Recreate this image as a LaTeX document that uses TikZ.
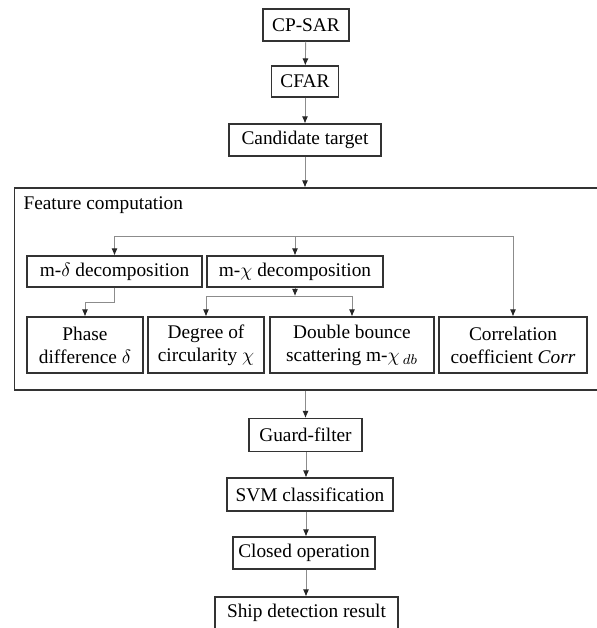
\documentclass[tikz,border=0pt]{standalone}
\usepackage{fontspec}
\setmainfont{Liberation Serif}
\usetikzlibrary{arrows.meta}

\begin{document}
\begin{tikzpicture}[
    x=0.02cm,y=-0.02cm,
    font=\fontsize{11}{13}\selectfont,
    every node/.style={draw=black!80,line width=0.6pt,inner sep=0pt,align=center},
    link/.style={draw=black!45,line width=0.5pt},
    arr/.style={link,-{Latex[length=4pt,width=3.4pt,color=black!85]}},
  ]
  \useasboundingbox (0,0) rectangle (597,628);
  % main chain, top part
  \node[minimum width=1.72cm,minimum height=0.64cm] (cpsar) at (306,25) {CP-SAR};
  \node[minimum width=1.34cm,minimum height=0.62cm] (cfar) at (305,81.5) {CFAR};
  \node[minimum width=3.04cm,minimum height=0.64cm] (cand) at (305,140) {Candidate target};
  % feature computation frame
  \node[minimum width=11.92cm,minimum height=4.04cm] (feat) at (312,289) {};
  \node[draw=none,anchor=west] (feattitle) at (23,205) {Feature computation};
  \node[minimum width=3.5cm,minimum height=0.62cm] (mdelta) at (114.5,271.5) {m-$\delta$ decomposition};
  \node[minimum width=3.52cm,minimum height=0.62cm] (mchi) at (295,271.5) {m-$\chi$ decomposition};
  \node[minimum width=2.32cm,minimum height=1.12cm] (phase) at (85,345) {Phase\\difference $\delta$};
  \node[minimum width=2.32cm,minimum height=1.12cm] (degree) at (206,345) {Degree of\\circularity $\chi$};
  \node[minimum width=3.28cm,minimum height=1.12cm] (double) at (352,345) {Double bounce\\scattering m-$\chi$\,$_{db}$};
  \node[minimum width=2.96cm,minimum height=1.12cm] (corr) at (513,345) {Correlation\\coefficient \textit{Corr}};
  % main chain, bottom part
  \node[minimum width=2.26cm,minimum height=0.66cm] (guard) at (305.5,435) {Guard-filter};
  \node[minimum width=3.32cm,minimum height=0.66cm] (svm) at (310,494.5) {SVM classification};
  \node[minimum width=2.84cm,minimum height=0.64cm] (closed) at (304,553) {Closed operation};
  \node[minimum width=3.66cm,minimum height=0.64cm] (ship) at (306.5,613) {Ship detection result};

  \coordinate (split) at (295,236);
  \coordinate (branch) at (295,296);

  \draw[arr] (cpsar) -- (cfar);
  \draw[arr] (cfar) -- (cand);
  \draw[arr] (cand) -- (cand |- feat.north);
  \draw[link] (mdelta.north |- split) -- (corr.north |- split);
  \draw[arr] (mdelta.north |- split) -- (mdelta.north);
  \draw[arr] (split) -- (mchi.north);
  \draw[arr] (corr.north |- split) -- (corr.north);
  \draw[arr] (mdelta.south) -- ++(0,15) -| (phase.north);
  \draw[arr] (mchi.south) -- (branch);
  \draw[arr] (branch) -| (degree.north);
  \draw[arr] (branch) -| (double.north);
  \draw[arr] (feat.south -| guard) -- (guard);
  \draw[arr] (guard.south -| 306,0) -- (svm.north -| 306,0);
  \draw[arr] (svm.south -| 306,0) -- (closed.north -| 306,0);
  \draw[arr] (closed.south -| 306,0) -- (ship.north -| 306,0);
\end{tikzpicture}
\end{document}
